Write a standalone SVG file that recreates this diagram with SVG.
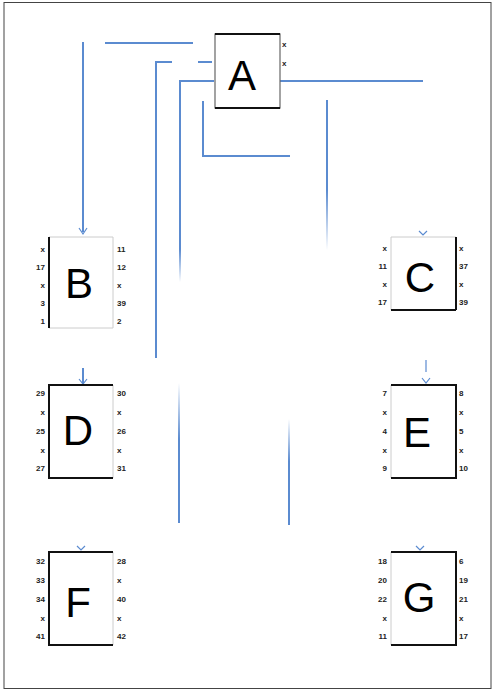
<svg xmlns="http://www.w3.org/2000/svg" width="496" height="690" viewBox="0 0 496 690">
<style>
.lbl{font-family:"Liberation Sans",Arial,sans-serif;font-size:42px;fill:#000;text-anchor:middle}
.s{font-family:"Liberation Sans",Arial,sans-serif;font-size:8px;font-weight:bold;fill:#222}
.l{text-anchor:end}
.dk{stroke:#111;stroke-width:2}
.lt{stroke:#ccc;stroke-width:1}
.c{fill:none;stroke:#5b8bd0;stroke-width:2}
.a{fill:none;stroke:#5b8bd0;stroke-width:1.2}
</style>
<defs>
<linearGradient id="fd" x1="0" y1="0" x2="0" y2="1"><stop offset="0" stop-color="#5b8bd0"/><stop offset="0.6" stop-color="#5b8bd0"/><stop offset="1" stop-color="#5b8bd0" stop-opacity="0"/></linearGradient>
<linearGradient id="fu" x1="0" y1="0" x2="0" y2="1"><stop offset="0" stop-color="#5b8bd0" stop-opacity="0"/><stop offset="0.4" stop-color="#5b8bd0"/><stop offset="1" stop-color="#5b8bd0"/></linearGradient>
</defs>
<rect x="4" y="2.5" width="487" height="686" fill="#fff" stroke="#444" stroke-width="1"/>
<g id="connectors">
<line class="c" x1="105" y1="43" x2="193" y2="43"/>
<line class="c" x1="83" y1="42" x2="83" y2="232"/>
<path class="a" d="M79 228 L83 234 L87 228"/>
<polyline class="c" points="172,62 156,62 156,358"/>
<line class="c" x1="198" y1="62" x2="212" y2="62"/>
<polyline class="c" points="214,81 180,81 180,200"/>
<rect x="179" y="200" width="2" height="82" fill="url(#fd)"/>
<rect x="178" y="383" width="2" height="140" fill="url(#fu)"/>
<rect x="288" y="419" width="2" height="106" fill="url(#fu)"/>
<polyline class="c" points="203,101 203,156 290,156"/>
<line class="c" x1="280" y1="81" x2="423" y2="81"/>
<rect x="326" y="100" width="2" height="150" fill="url(#fd)"/>
<path class="a" d="M419 231 L423 235 L427 231"/>
<line class="c" x1="83" y1="368" x2="83" y2="384"/>
<path class="a" d="M79 379 L83 384 L87 379"/>
<line class="c" x1="426" y1="360" x2="426" y2="372" opacity="0.6"/>
<path class="a" d="M422 378 L426 383 L430 378"/>
<path class="a" d="M77 546 L81 550 L85 546"/>
<path class="a" d="M416 546 L420 550 L424 546"/>
</g>
<g id="A">
<rect x="215" y="34" width="65" height="74" fill="#fff" stroke="#666" stroke-width="1.2"/>
<line class="dk" x1="215" y1="34" x2="280" y2="34"/><line class="dk" x1="215" y1="108" x2="280" y2="108"/>
<text class="lbl" x="242" y="90">A</text>
<text class="s" x="282" y="47">x</text><text class="s" x="282" y="66">x</text>
</g>
<g id="B">
<line class="lt" x1="49" y1="237" x2="113" y2="237"/><line class="lt" x1="113" y1="237" x2="113" y2="328"/><line class="lt" x1="49" y1="328" x2="113" y2="328"/>
<line class="dk" x1="49" y1="237" x2="49" y2="328"/>
<text class="lbl" x="79" y="298">B</text>
<text class="s l" x="45" y="252">x</text><text class="s l" x="45" y="270">17</text><text class="s l" x="45" y="288">x</text><text class="s l" x="45" y="306">3</text><text class="s l" x="45" y="324">1</text>
<text class="s" x="117" y="252">11</text><text class="s" x="117" y="270">12</text><text class="s" x="117" y="288">x</text><text class="s" x="117" y="306">39</text><text class="s" x="117" y="324">2</text>
</g>
<g id="C">
<line class="lt" x1="391" y1="237" x2="456" y2="237"/><line class="lt" x1="391" y1="237" x2="391" y2="310"/>
<line class="dk" x1="456" y1="237" x2="456" y2="310"/><line class="dk" x1="391" y1="310" x2="456" y2="310"/>
<text class="lbl" x="420" y="292">C</text>
<text class="s l" x="387" y="251">x</text><text class="s l" x="387" y="269">11</text><text class="s l" x="387" y="287">x</text><text class="s l" x="387" y="305">17</text>
<text class="s" x="459" y="251">x</text><text class="s" x="459" y="269">37</text><text class="s" x="459" y="287">x</text><text class="s" x="459" y="305">39</text>
</g>
<g id="D">
<line class="lt" x1="113" y1="385" x2="113" y2="478"/>
<polyline fill="none" class="dk" points="113,385 49,385 49,478 113,478"/>
<text class="lbl" x="78" y="445">D</text>
<text class="s l" x="45" y="396">29</text><text class="s l" x="45" y="415">x</text><text class="s l" x="45" y="434">25</text><text class="s l" x="45" y="453">x</text><text class="s l" x="45" y="471">27</text>
<text class="s" x="117" y="396">30</text><text class="s" x="117" y="415">x</text><text class="s" x="117" y="434">26</text><text class="s" x="117" y="453">x</text><text class="s" x="117" y="471">31</text>
</g>
<g id="E">
<line class="lt" x1="391" y1="385" x2="391" y2="478"/>
<polyline fill="none" class="dk" points="391,385 456,385 456,478 391,478"/>
<text class="lbl" x="417" y="447">E</text>
<text class="s l" x="387" y="396">7</text><text class="s l" x="387" y="415">x</text><text class="s l" x="387" y="434">4</text><text class="s l" x="387" y="453">x</text><text class="s l" x="387" y="471">9</text>
<text class="s" x="459" y="396">8</text><text class="s" x="459" y="415">x</text><text class="s" x="459" y="434">5</text><text class="s" x="459" y="453">x</text><text class="s" x="459" y="471">10</text>
</g>
<g id="F">
<line class="lt" x1="113" y1="552" x2="113" y2="645"/>
<polyline fill="none" class="dk" points="113,552 49,552 49,645 113,645"/>
<text class="lbl" x="78" y="617">F</text>
<text class="s l" x="45" y="564">32</text><text class="s l" x="45" y="583">33</text><text class="s l" x="45" y="602">34</text><text class="s l" x="45" y="621">x</text><text class="s l" x="45" y="639">41</text>
<text class="s" x="117" y="564">28</text><text class="s" x="117" y="583">x</text><text class="s" x="117" y="602">40</text><text class="s" x="117" y="621">x</text><text class="s" x="117" y="639">42</text>
</g>
<g id="G">
<line class="lt" x1="391" y1="552" x2="391" y2="645"/>
<polyline fill="none" class="dk" points="391,552 456,552 456,645 391,645"/>
<text class="lbl" x="419" y="612">G</text>
<text class="s l" x="387" y="564">18</text><text class="s l" x="387" y="583">20</text><text class="s l" x="387" y="602">22</text><text class="s l" x="387" y="621">x</text><text class="s l" x="387" y="639">11</text>
<text class="s" x="459" y="564">6</text><text class="s" x="459" y="583">19</text><text class="s" x="459" y="602">21</text><text class="s" x="459" y="621">x</text><text class="s" x="459" y="639">17</text>
</g>
</svg>
